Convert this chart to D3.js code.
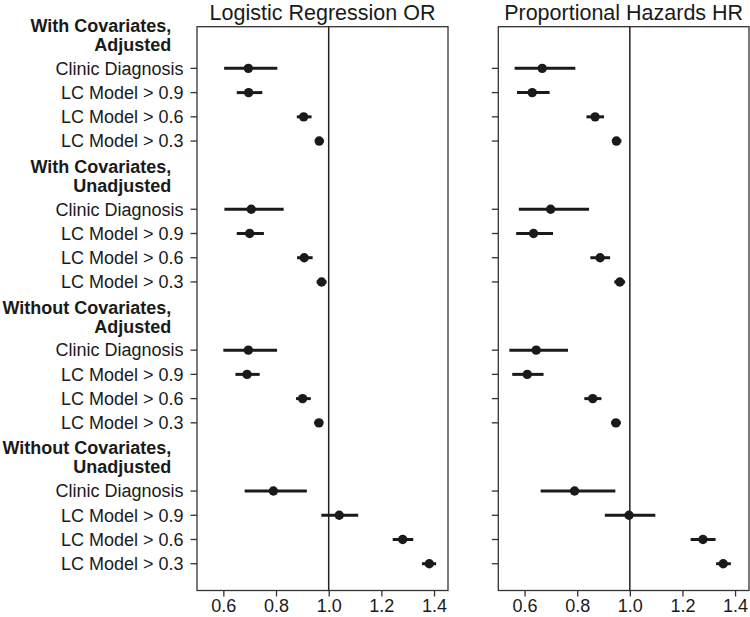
<!DOCTYPE html>
<html><head><meta charset="utf-8">
<script src="https://cdn.jsdelivr.net/npm/d3@7"></script>
<style>body{margin:0;background:#fff}svg{display:block}</style>
</head><body>
<svg id="c" width="750" height="617"></svg>
<script>
const groups = ["With Covariates,|Adjusted","With Covariates,|Unadjusted","Without Covariates,|Adjusted","Without Covariates,|Unadjusted"];
const rows = ["Clinic Diagnosis","LC Model > 0.9","LC Model > 0.6","LC Model > 0.3"];
const panels = ["Logistic Regression OR","Proportional Hazards HR"];
const xTicks = [0.6,0.8,1.0,1.2,1.4];
// Logistic regression OR: estimate, lower, upper (group-major, row order)
const orEst = [0.695,0.696,0.905,0.964, 0.706,0.700,0.907,0.973, 0.695,0.690,0.901,0.963, 0.790,1.040,1.281,1.382];
const orLo  = [0.603,0.651,0.879,0.948, 0.604,0.651,0.880,0.954, 0.600,0.646,0.876,0.945, 0.681,0.972,1.243,1.354];
const orHi  = [0.805,0.748,0.935,0.982, 0.829,0.754,0.939,0.992, 0.804,0.738,0.932,0.979, 0.917,1.112,1.321,1.408];
// Proportional hazards HR
const hrEst = [0.667,0.629,0.868,0.949, 0.699,0.634,0.887,0.962, 0.644,0.610,0.859,0.947, 0.790,0.997,1.278,1.355];
const hrLo  = [0.562,0.571,0.835,0.933, 0.578,0.568,0.850,0.941, 0.542,0.553,0.827,0.929, 0.661,0.905,1.231,1.328];
const hrHi  = [0.793,0.695,0.902,0.968, 0.845,0.708,0.925,0.982, 0.765,0.672,0.892,0.966, 0.945,1.097,1.326,1.384];

(function () {
const svg = d3.select("#c");
const font = "'Liberation Sans', Arial, Helvetica, sans-serif";
const ink = "#1a1a1a";
const yTop = 26.7, yBot = 590.5;
const y = d3.scaleLinear().domain([0, 23.27]).range([yTop, yBot]);
const rowPos = (g, j) => 1.72 + g * 5.815 + j;

const panelX = [[197, 448], [498.3, 749]];
const series = [[orEst, orLo, orHi], [hrEst, hrLo, hrHi]];

panels.forEach((title, p) => {
  const [x0, x1] = panelX[p];
  const x = d3.scaleLinear().domain([0.5, 1.453]).range([x0, x1]);
  const g = svg.append("g");
  g.append("rect").attr("x", x0).attr("y", yTop).attr("width", x1 - x0).attr("height", yBot - yTop)
    .attr("fill", "none").attr("stroke", "#333").attr("stroke-width", 1.3);
  g.append("line").attr("x1", x(1)).attr("x2", x(1)).attr("y1", yTop).attr("y2", yBot)
    .attr("stroke", "#222").attr("stroke-width", 1.5);
  const xa = g.append("g").attr("transform", `translate(0,${yBot})`)
    .call(d3.axisBottom(x).tickValues(xTicks).tickFormat(d3.format(".1f")).tickSize(6).tickPadding(3));
  xa.select(".domain").remove();
  xa.selectAll(".tick line").attr("stroke", "#333").attr("stroke-width", 1.3);
  xa.selectAll(".tick text").attr("font-family", font).attr("font-size", 18).attr("fill", ink);
  const ticksY = [];
  groups.forEach((gn, gi) => rows.forEach((r, j) => ticksY.push(rowPos(gi, j))));
  g.selectAll(".yt").data(ticksY).join("line").attr("class", "yt")
    .attr("x1", x0 - 6.5).attr("x2", x0).attr("y1", d => y(d)).attr("y2", d => y(d))
    .attr("stroke", "#333").attr("stroke-width", 1.3);
  g.append("text").attr("x", (x0 + x1) / 2).attr("y", 19.6).attr("text-anchor", "middle")
    .attr("font-family", font).attr("font-size", 21.5).attr("fill", ink).text(title);
  const [est, lo, hi] = series[p];
  const pts = [];
  groups.forEach((gn, gi) => rows.forEach((r, j) => {
    const k = gi * rows.length + j;
    pts.push({ pos: rowPos(gi, j), e: est[k], l: lo[k], h: hi[k] });
  }));
  g.selectAll(".ci").data(pts).join("line").attr("class", "ci")
    .attr("x1", d => x(d.l)).attr("x2", d => x(d.h)).attr("y1", d => y(d.pos)).attr("y2", d => y(d.pos))
    .attr("stroke", ink).attr("stroke-width", 3);
  g.selectAll(".pt").data(pts).join("circle").attr("class", "pt")
    .attr("cx", d => x(d.e)).attr("cy", d => y(d.pos)).attr("r", 4.7).attr("fill", ink);
});

groups.forEach((gn, gi) => {
  const yc = y(rowPos(gi, 0));
  gn.split("|").forEach((ln, li) => {
    svg.append("text").attr("x", 171.3).attr("y", yc - 36.6 + li * 19)
      .attr("text-anchor", "end").attr("font-family", font).attr("font-weight", "bold")
      .attr("font-size", 18).attr("fill", ink).text(ln);
  });
  rows.forEach((r, j) => {
    svg.append("text").attr("x", 183.5).attr("y", y(rowPos(gi, j))).attr("dy", "0.35em")
      .attr("text-anchor", "end").attr("font-family", font).attr("font-size", 18)
      .attr("fill", ink).text(r);
  });
});
})();
</script>
</body></html>
